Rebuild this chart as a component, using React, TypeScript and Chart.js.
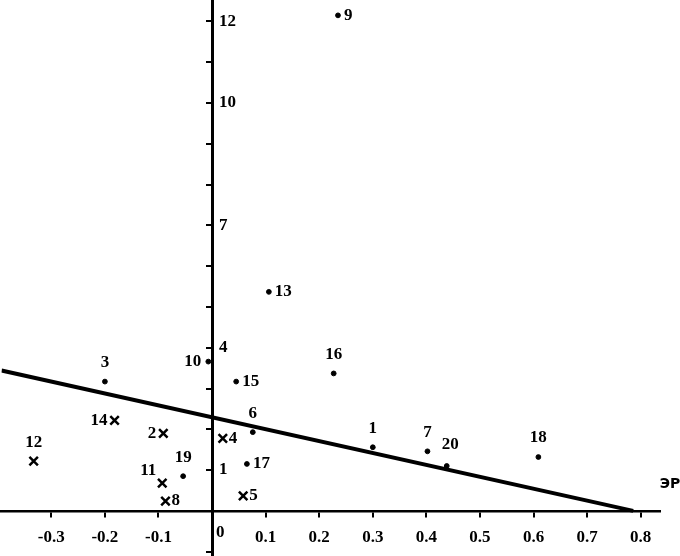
import React, { useEffect, useRef } from 'react';
import { Chart, registerables } from 'chart.js';

Chart.register(...registerables);

const dotIds = [9, 13, 16, 3, 10, 15, 6, 17, 19, 1, 7, 20, 18];
const dotX = [0.235, 0.106, 0.227, -0.2, -0.007, 0.045, 0.076, 0.065, -0.054, 0.3, 0.402, 0.438, 0.609];
const dotY = [12.15, 5.37, 3.37, 3.17, 3.66, 3.17, 1.93, 1.15, 0.85, 1.56, 1.46, 1.1, 1.32];
const dotLabelPos = ['right', 'right', 'above', 'above', 'left', 'right', 'above', 'right', 'above', 'above', 'above', 'aboveRight', 'above'];

const crossIds = [14, 2, 4, 12, 11, 8, 5];
const crossX = [-0.182, -0.091, 0.02, -0.333, -0.093, -0.087, 0.058];
const crossY = [2.22, 1.9, 1.78, 1.22, 0.68, 0.24, 0.37];
const crossLabelPos = ['left', 'left', 'right', 'above', 'aboveLeft', 'right', 'right'];

const lineX = [-0.393, 0.786];
const lineY = [3.44, 0];

const xTickLabels = [-0.3, -0.2, -0.1, 0, 0.1, 0.2, 0.3, 0.4, 0.5, 0.6, 0.7, 0.8];
const yTickLabels = [1, 4, 7, 10, 12];
const xAxisName = 'ЭР';

const SERIF = '"Liberation Serif", "Times New Roman", serif';

export default function App() {
  const ref = useRef<HTMLCanvasElement>(null);

  useEffect(() => {
    if (!ref.current) return;
    const labelPlugin = {
      id: 'pointLabels',
      afterDatasetsDraw(chart: any) {
        const ctx = chart.ctx;
        ctx.save();
        ctx.fillStyle = '#000';
        ctx.font = `bold 17px ${SERIF}`;
        ctx.textBaseline = 'middle';
        const sets = [
          { idx: 0, ids: dotIds, pos: dotLabelPos },
          { idx: 1, ids: crossIds, pos: crossLabelPos },
        ];
        sets.forEach((s) => {
          const meta = chart.getDatasetMeta(s.idx);
          meta.data.forEach((el: any, i: number) => {
            const x = el.x;
            const y = el.y;
            const p = s.pos[i];
            let tx = x;
            let ty = y;
            if (p === 'right') { ctx.textAlign = 'left'; tx = x + 6; }
            else if (p === 'left') { ctx.textAlign = 'right'; tx = x - 7; }
            else if (p === 'above') { ctx.textAlign = 'center'; ty = y - 19; }
            else if (p === 'aboveLeft') { ctx.textAlign = 'right'; tx = x - 6; ty = y - 13; }
            else if (p === 'aboveRight') { ctx.textAlign = 'left'; tx = x - 5; ty = y - 21; }
            ctx.fillText(String(s.ids[i]), tx, ty);
          });
        });
        const xs = chart.scales.x;
        const ys = chart.scales.y;
        const ax = xs.getPixelForValue(0);
        const ay = ys.getPixelForValue(0);
        ctx.textAlign = 'left';
        yTickLabels.forEach((v) => ctx.fillText(String(v), ax + 7, ys.getPixelForValue(v)));
        ctx.fillText('0', ax + 4, ay + 22);
        ctx.font = `bold 14px "DejaVu Sans", sans-serif`;
        ctx.textAlign = 'center';
        ctx.fillText(xAxisName, chart.width - 10, ay - 27);
        ctx.restore();
      },
    };

    const chart = new Chart(ref.current, {
      type: 'scatter',
      data: {
        datasets: [
          {
            label: 'dots',
            data: dotX.map((x, i) => ({ x, y: dotY[i] })),
            pointStyle: 'circle',
            pointRadius: 2.4,
            backgroundColor: '#000',
            borderColor: '#000',
            borderWidth: 1,
          },
          {
            label: 'crosses',
            data: crossX.map((x, i) => ({ x, y: crossY[i] })),
            pointStyle: 'crossRot',
            pointRadius: 6,
            borderColor: '#000',
            borderWidth: 2.5,
          },
          {
            label: 'trend',
            data: lineX.map((x, i) => ({ x, y: lineY[i] })),
            showLine: true,
            pointRadius: 0,
            borderColor: '#000',
            borderWidth: 4,
          } as any,
        ],
      },
      options: {
        responsive: false,
        animation: false,
        layout: { padding: { left: 0, top: 0, right: 20, bottom: 0 } },
        plugins: { legend: { display: false }, tooltip: { enabled: false } },
        scales: {
          x: {
            type: 'linear',
            min: -0.393,
            max: 0.836,
            position: { y: 0 } as any,
            ticks: {
              stepSize: 0.1,
              includeBounds: false,
              autoSkip: false,
              maxRotation: 0,
              color: '#000',
              padding: 12,
              font: { family: SERIF, size: 17, weight: 'bold' },
              callback: (v: any) => {
                const r = Math.round(Number(v) * 10) / 10;
                if (r === 0) return '';
                return xTickLabels.includes(r) ? r.toFixed(1) : '';
              },
            },
            grid: { drawOnChartArea: false, drawTicks: true, tickLength: 5, color: '#000', lineWidth: 2 },
            border: { display: true, color: '#000', width: 2.5 },
          },
          y: {
            type: 'linear',
            min: -1.07,
            max: 12.49,
            position: { x: 0 } as any,
            ticks: { display: false, stepSize: 1, includeBounds: false },
            grid: { drawOnChartArea: false, drawTicks: true, tickLength: 5, color: '#000', lineWidth: 2 },
            border: { display: true, color: '#000', width: 3 },
          },
        },
      },
      plugins: [labelPlugin],
    });
    return () => chart.destroy();
  }, []);

  return (
    <div style={{ position: 'fixed', left: 0, top: 0, width: 680, height: 556, background: '#fff', overflow: 'hidden' }}>
      <canvas ref={ref} width={687} height={570} style={{ display: 'block', position: 'absolute', left: -7, top: -7 }} />
    </div>
  );
}
